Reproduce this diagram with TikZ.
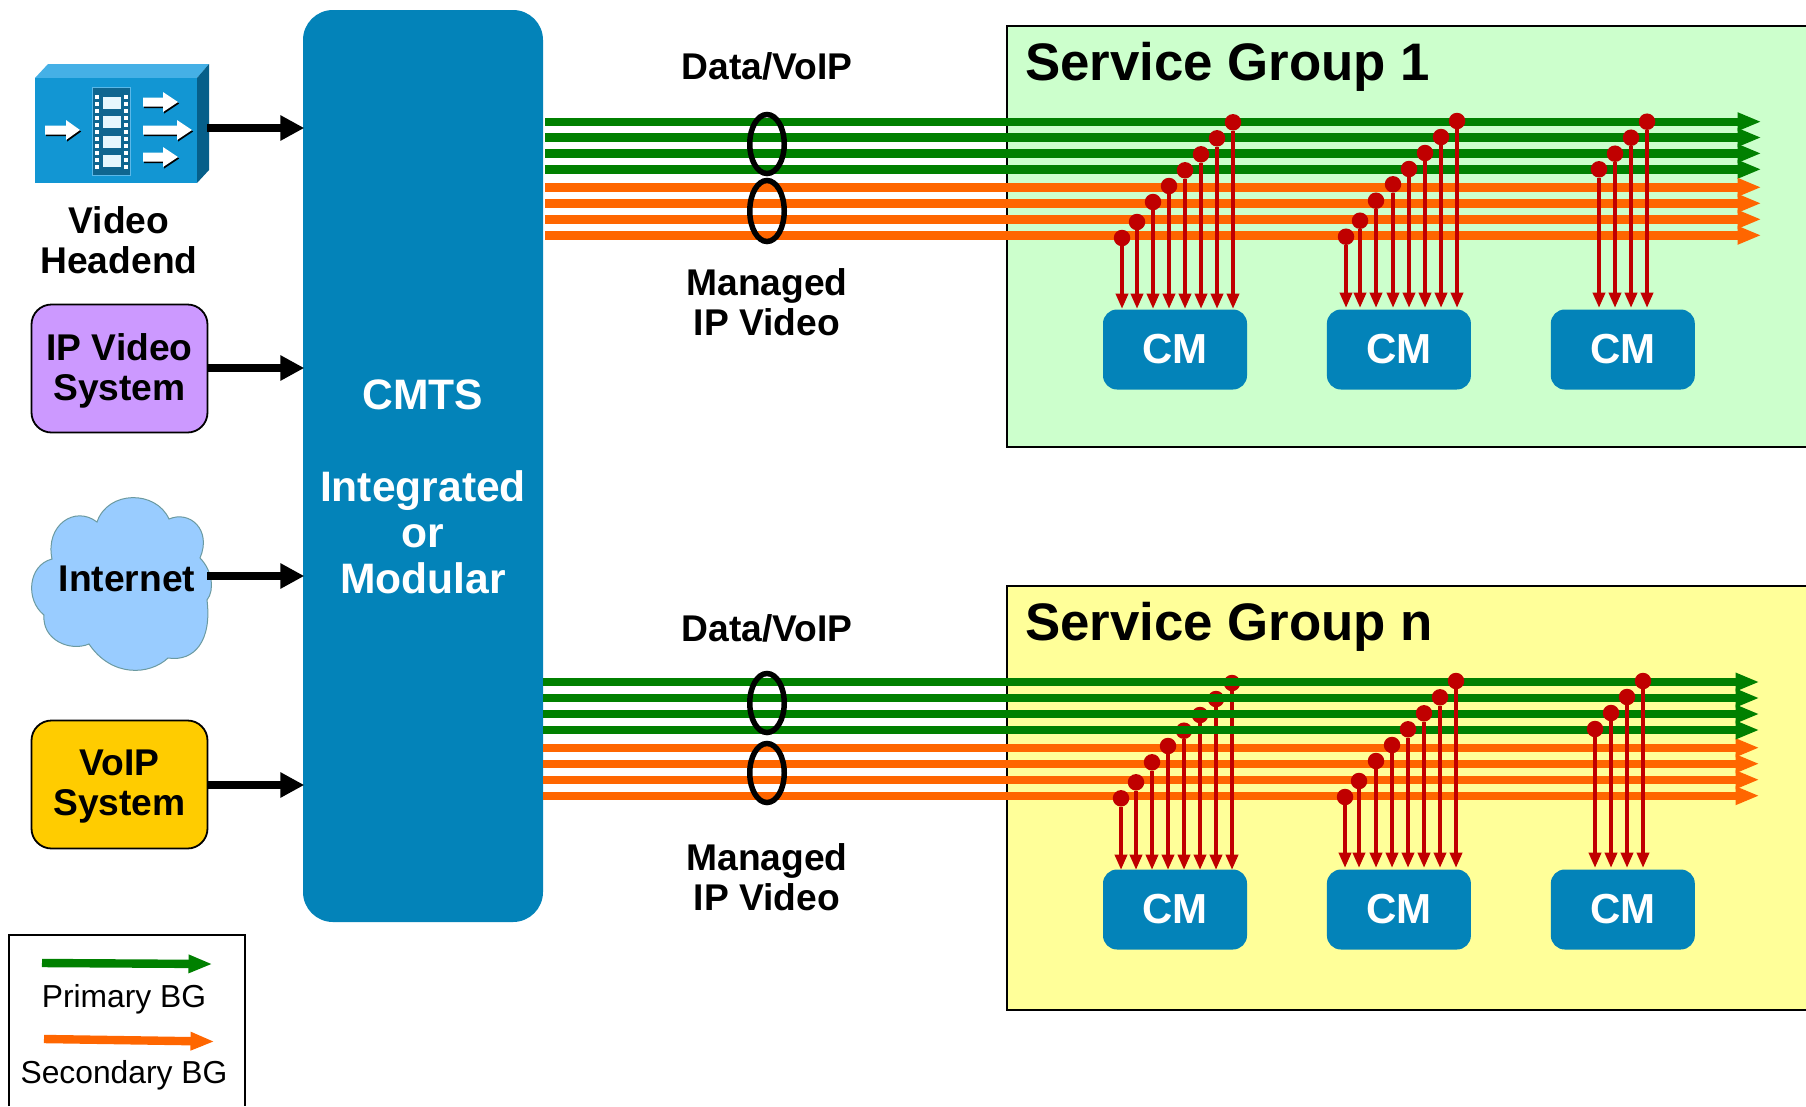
\documentclass[tikz,border=0pt]{standalone}
\usepackage{fontspec}
\setmainfont{Liberation Sans}
\usetikzlibrary{arrows.meta, positioning, shapes}
\definecolor{cmtsblue}{HTML}{0383B9}
\definecolor{primarygreen}{HTML}{008000}
\definecolor{secondaryorange}{HTML}{FF6600}
\definecolor{dropred}{HTML}{C00000}
\definecolor{groupgreen}{HTML}{CCFFCC}
\definecolor{groupyellow}{HTML}{FFFF99}
\definecolor{cloudblue}{HTML}{99CCFF}
\newcommand{\bundle}[5]{
	\foreach \ly [count=\li] in {#3} {
		\coordinate (#1-a-\li) at (#4,\ly);
		\coordinate (#1-b-\li) at (#5,\ly);
		\path[#2] (#1-a-\li) edge (#1-b-\li);
	}
}
\newcommand{\drops}[3]{
	\foreach \dx/\dy in {#3} {
		\node[dropdot] (#1-\dx) at (\dx,\dy) {};
		\coordinate (#1-\dx-end) at (\dx,#2);
		\path[dropline] (#1-\dx) edge (#1-\dx-end);
	}
}
\newcommand{\iconarrow}[4]{
	\fill[black,shift={(1.2,1.5)}] (#1,#2-4.5) -- (#3,#2-4.5) -- (#3,#2-10) -- (#4,#2) -- (#3,#2+10) -- (#3,#2+4.5) -- (#1,#2+4.5) -- cycle;
	\fill[white] (#1,#2-4.5) -- (#3,#2-4.5) -- (#3,#2-10) -- (#4,#2) -- (#3,#2+10) -- (#3,#2+4.5) -- (#1,#2+4.5) -- cycle;
}

\begin{document}
\begin{tikzpicture}[x=1pt, y=-1pt,
		bigtext/.style={font=\fontsize{37.2}{40}\bfseries\selectfont, align=center, inner sep=0pt},
		cmtstext/.style={font=\fontsize{42.6}{46}\bfseries\selectfont, align=center, inner sep=0pt, text=white},
		titletext/.style={font=\fontsize{52.8}{58}\bfseries\selectfont, anchor=west, inner sep=0pt},
		legendtext/.style={font=\fontsize{31.8}{34}\selectfont, inner sep=0pt},
		sourcebox/.style={draw=black, line width=1.8pt, rounded corners=20pt, minimum width=176pt, minimum height=128pt, inner sep=0pt},
		cmbox/.style={fill=cmtsblue, rounded corners=14pt, minimum width=144pt, minimum height=80pt, inner sep=0pt, text=white, text depth=2pt, font=\fontsize{42}{44}\bfseries\selectfont},
		feed/.style={-{Triangle[length=24pt, width=24pt]}, line width=8pt, black, shorten >=-1.5pt},
		greenline/.style={-{Triangle[length=24pt, width=17pt]}, line width=8.4pt, primarygreen, shorten >=-1.5pt},
		orangeline/.style={-{Triangle[length=24pt, width=17pt]}, line width=8.4pt, secondaryorange, shorten >=-1.5pt},
		dropdot/.style={circle, fill=dropred, minimum size=16.5pt, inner sep=0pt},
		dropline/.style={-{Triangle[length=15.5pt, width=12pt]}, line width=4.2pt, dropred, shorten >=-1pt},
		loopmark/.style={ellipse, draw=black, line width=5.5pt, minimum width=34.5pt, inner sep=0pt}
	]
	\useasboundingbox (0,0) rectangle (1806,1106);
	\fill[white] (0,0) rectangle (1806,1106);

	\filldraw[fill=groupgreen, draw=black, line width=2pt] (1806,26) -- (1007,26) -- (1007,446.5) -- (1806,446.5);
	\filldraw[fill=groupyellow, draw=black, line width=2pt] (1806,586) -- (1007,586) -- (1007,1010) -- (1806,1010);
	\filldraw[fill=white, draw=black, line width=2.3pt] (9,1106) -- (9,935) -- (245,935) -- (245,1106);

	\node[fill=cmtsblue, rounded corners=30pt, minimum width=240pt, minimum height=912pt, inner sep=0pt] (cmts) at (423,466) {};
	\node[cmtstext] (cmtslabel) at (423,487) {CMTS\\[46pt]Integrated\\or\\Modular};

	\fill[fill={rgb,255:red,69;green,176;blue,230}] (35,78) -- (48,64) -- (209,64) -- (197,78) -- cycle;
	\fill[fill={rgb,255:red,6;green,95;blue,138}] (197,78) -- (209,64) -- (209,170) -- (197,183) -- cycle;
	\node[fill={rgb,255:red,18;green,150;blue,211}, minimum width=162pt, minimum height=105pt, inner sep=0pt] (video) at (116,130.5) {};
	\fill[fill={rgb,255:red,15;green,102;blue,144}, draw={rgb,255:red,91;green,184;blue,232}, line width=1pt] (92,87) rectangle (130,175);
	\foreach \fy in {97,116,136,155} {
		\fill[white!90!cyan] (103,\fy) rectangle (121,\fy+12);
	}
	\foreach \hy in {95,102,109,116,123,130,137,144,151,158,165} {
		\fill[white] (95,\hy) rectangle (99,\hy+4);
		\fill[white] (124,\hy) rectangle (128,\hy+4);
	}
	\iconarrow{45}{130}{66}{80}
	\iconarrow{143}{102}{163}{178}
	\iconarrow{143}{130}{177}{192}
	\iconarrow{143}{157}{163}{178}
	\node[bigtext] (videolabel) at (119,240) {Video\\Headend};

	\node[sourcebox, fill={rgb,255:red,204;green,153;blue,255}] (ipvideo) at (119.5,368.5) {};
	\node[bigtext] (ipvideolabel) at (119.5,370.8) {IP Video\\System};
	\node[sourcebox, fill={rgb,255:red,255;green,204;blue,0}] (voip) at (119.5,784.5) {};
	\node[bigtext] (voiplabel) at (119.5,786.8) {VoIP\\System};

	\filldraw[fill=cloudblue, draw={rgb,255:red,107;green,154;blue,160}, line width=1pt]
		(97,522) .. controls (108,490) and (156,490) .. (169,519) .. controls (190,510) and (212,530) .. (200,558)
		.. controls (212,570) and (215,590) .. (207,600) .. controls (212,640) and (195,662) .. (168,658)
		.. controls (150,675) and (112,678) .. (89,644) .. controls (70,652) and (42,640) .. (44,615)
		.. controls (25,600) and (28,565) .. (52,559) .. controls (45,525) and (75,505) .. (97,522) -- cycle;
	\node[bigtext] (internet) at (127,579) {Internet};
	\coordinate (internetout) at (207,576);
	\coordinate (videoout) at (207,128);
	\coordinate (ipvideoout) at (ipvideo.east |- 0,368);
	\coordinate (voipout) at (voip.east |- 0,785);

	\path[feed]
	(videoout) edge (cmts.west |- videoout)
	(ipvideoout) edge (cmts.west |- ipvideoout)
	(internetout) edge (cmts.west |- internetout)
	(voipout) edge (cmts.west |- voipout)
	;

	\bundle{ga}{greenline}{121.7,137.5,153.4,169.3}{545}{1760}
	\bundle{oa}{orangeline}{187.3,203.3,219.3,235.3}{545}{1760}
	\node[loopmark, minimum height=59pt] (loopa) at (767,144) {};
	\node[loopmark, minimum height=61pt] (loopb) at (767,211) {};
	\drops{ra}{308}{1122/238,1137/222,1153/202,1169/186,1185/170.3,1201/154.3,1217/138.3,1233/122.3}
	\drops{rb}{307}{1346/236.7,1360/220.7,1376/200.7,1393/184.3,1409/169,1425/153,1441/137,1457/121}
	\drops{rc}{307}{1599/169.3,1615/153.7,1631/137.7,1647/121.7}

	\node[cmbox] (cma) at (1175,349.5) {CM};
	\node[cmbox, right=80pt of cma, xshift=-0.5pt] (cmb) {CM};
	\node[cmbox, right=80pt of cmb, xshift=-0.5pt] (cmc) {CM};

	\bundle{oc}{orangeline}{747.7,763.7,779.7,795.7}{543}{1758}
	\drops{rd}{869}{1121/798.3,1136/782.3,1152/762.3,1168/746,1184/730.7,1200/715,1216/699,1232/683}
	\bundle{gc}{greenline}{682,698,714,730}{543}{1758}
	\node[loopmark, minimum height=59pt] (loopc) at (767,703) {};
	\node[loopmark, minimum height=59pt] (loopd) at (767,773) {};
	\drops{re}{867}{1345/797,1359/781,1376/761,1392/745,1408/729.3,1424/713.3,1440/697.3,1456/681}
	\drops{rf}{867}{1595/729,1611/713,1627/697,1643/681}

	\node[cmbox] (cmd) at (1175,909.5) {CM};
	\node[cmbox, right=80pt of cmd, xshift=-0.5pt] (cme) {CM};
	\node[cmbox, right=80pt of cme, xshift=-0.5pt] (cmf) {CM};

	\node[titletext] (groupa) at (1025,67) {Service Group 1};
	\node[titletext] (groupn) at (1025,627) {Service Group n};
	\node[bigtext] (dataa) at (767,66) {Data/VoIP};
	\node[bigtext] (manageda) at (767,302) {Managed\\IP Video};
	\node[bigtext] (datan) at (767,628) {Data/VoIP};
	\node[bigtext] (managedn) at (767,877) {Managed\\IP Video};

	\coordinate (primarya) at (42,963);
	\coordinate (primaryb) at (211,964);
	\coordinate (secondarya) at (44,1039);
	\coordinate (secondaryb) at (213,1041.5);
	\path[greenline] (primarya) edge (primaryb);
	\path[orangeline] (secondarya) edge (secondaryb);
	\node[legendtext] (primary) at (124,999) {Primary BG};
	\node[legendtext] (secondary) at (124,1075) {Secondary BG};
\end{tikzpicture}
\end{document}
